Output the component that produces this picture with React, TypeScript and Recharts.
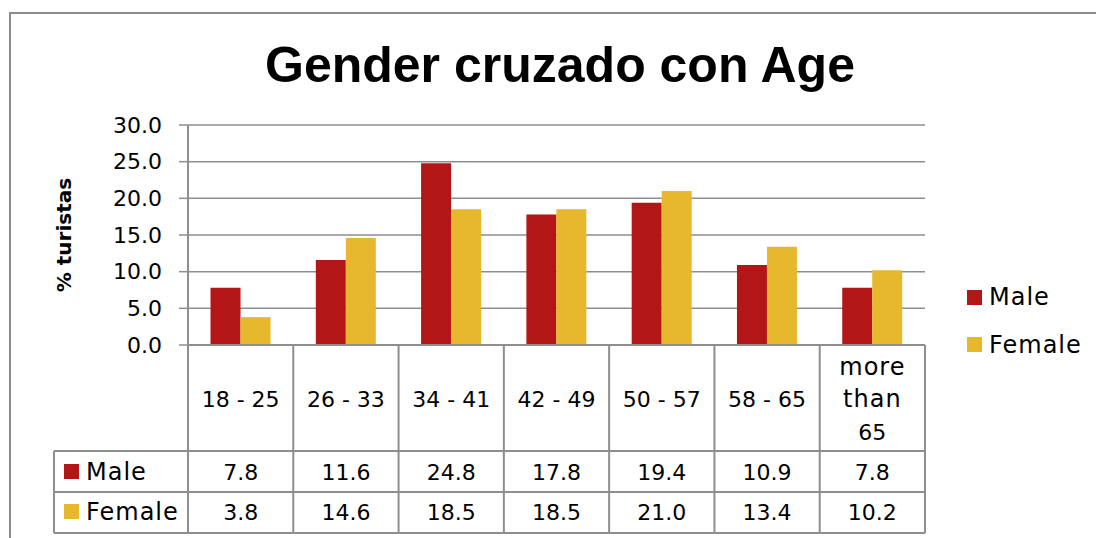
import React from 'react';
import { BarChart, Bar, XAxis, YAxis, CartesianGrid, Legend } from 'recharts';

const categories = ['18 - 25', '26 - 33', '34 - 41', '42 - 49', '50 - 57', '58 - 65', 'more than 65'];
const maleValues = [7.8, 11.6, 24.8, 17.8, 19.4, 10.9, 7.8];
const femaleValues = [3.8, 14.6, 18.5, 18.5, 21.0, 13.4, 10.2];
const yTicks = [0, 5, 10, 15, 20, 25, 30];
const seriesNames = ['Male', 'Female'];
const title = 'Gender cruzado con Age';
const yLabel = '% turistas';

const data = categories.map((c, i) => ({ category: c, Male: maleValues[i], Female: femaleValues[i] }));

const MALE = '#B21616';
const FEMALE = '#E7B72C';
const COLORS = [MALE, FEMALE];
const LINE = '#8e8e8e';
const FONT = '"DejaVu Sans", sans-serif';

const HEADER_H = 106;
const ROW_H = 41;
const LEGEND_COL_W = 134;

function TableTick(props: any) {
  const { x, y, payload, index } = props;
  const count = props.visibleTicksCount || categories.length;
  const half = payload && payload.offset ? payload.offset : props.width / count / 2;
  const left = x - half;
  const right = x + half;
  const top = y;
  const r1 = top + HEADER_H;
  const r2 = r1 + ROW_H;
  const r3 = r2 + ROW_H;
  const label = String(payload.value);
  const lines = label.length > 8 ? label.split(' ') : [label];
  const lh = 32.5;
  const last = index === count - 1;
  const rows = [maleValues, femaleValues];
  const txt = { fontFamily: FONT, fontSize: 22, fill: '#000' } as const;
  const word = { fontFamily: FONT, fontSize: 24, fill: '#000', letterSpacing: 1 } as const;
  return (
    <g>
      <line x1={left} y1={top} x2={left} y2={r3} stroke={LINE} strokeWidth={2} />
      {last && <line x1={right} y1={top} x2={right} y2={r3} stroke={LINE} strokeWidth={2} />}
      {[r1, r2, r3].map((yy, k) => (
        <line key={k} x1={left} y1={yy} x2={right} y2={yy} stroke={LINE} strokeWidth={2} />
      ))}
      {lines.map((ln, k) => (
        <text key={k} x={x} y={top + 62 + (k - (lines.length - 1) / 2) * lh} textAnchor="middle"
          {...(/[a-z]/.test(ln) ? word : txt)}>
          {ln}
        </text>
      ))}
      {rows.map((vals, k) => (
        <text key={'v' + k} x={x} y={r1 + 29 + k * (ROW_H - 1)} textAnchor="middle" {...txt}>
          {vals[index].toFixed(1)}
        </text>
      ))}
      {index === 0 && (
        <g>
          <line x1={left - LEGEND_COL_W} y1={r1} x2={left - LEGEND_COL_W} y2={r3} stroke={LINE} strokeWidth={2} />
          {[r1, r2, r3].map((yy, k) => (
            <line key={'l' + k} x1={left - LEGEND_COL_W} y1={yy} x2={left} y2={yy} stroke={LINE} strokeWidth={2} />
          ))}
          {seriesNames.map((n, k) => (
            <g key={'s' + k}>
              <rect x={left - LEGEND_COL_W + 10} y={r1 + 13 + k * (ROW_H - 1)} width={15} height={15} fill={COLORS[k]} />
              <text x={left - LEGEND_COL_W + 32} y={r1 + 29 + k * (ROW_H - 1)} {...word}>
                {n}
              </text>
            </g>
          ))}
        </g>
      )}
    </g>
  );
}

function LegendContent() {
  return (
    <svg width={140} height={80} style={{ overflow: 'visible' }}>
      {seriesNames.map((n, k) => (
        <g key={n}>
          <rect x={7} y={10 + k * 47} width={15} height={15} fill={COLORS[k]} />
          <text x={29} y={25 + k * 48} fontFamily={FONT} fontSize={24} fill="#000" letterSpacing={1}>
            {n}
          </text>
        </g>
      ))}
    </svg>
  );
}

export default function App() {
  return (
    <div style={{ position: 'absolute', left: 0, top: 0, width: 1096, height: 538, overflow: 'hidden', background: '#fff' }}>
      <div style={{ position: 'absolute', left: 9, top: 12, width: 1300, height: 800, border: '2px solid #8c8c8c' }} />
      <div style={{ position: 'absolute', left: 0, top: 0 }}>
        <BarChart width={1096} height={538} data={data} margin={{ top: 125, right: 171, bottom: 0, left: 0 }}
          barCategoryGap="21.4%" barGap={0}>
          <CartesianGrid vertical={false} stroke={LINE} strokeWidth={1.5} />
          <XAxis dataKey="category" height={193} tickSize={0} tickMargin={0} tickLine={false} interval={0}
            axisLine={{ stroke: LINE, strokeWidth: 2 }} tick={<TableTick />} />
          <YAxis type="number" domain={[0, 30]} ticks={yTicks} interval={0} width={188}
            tickFormatter={(v: number) => v.toFixed(1)} tick={{ fill: '#000', fontSize: 22, fontFamily: FONT }}
            tickLine={{ stroke: LINE, strokeWidth: 1.5 }} tickSize={9} tickMargin={17}
            axisLine={{ stroke: LINE, strokeWidth: 2 }} />
          <Legend layout="horizontal" verticalAlign="middle" align="center" content={<LegendContent />}
            wrapperStyle={{ left: 960, top: 280, width: 140, height: 80 }} />
          <Bar dataKey="Male" fill={MALE} isAnimationActive={false} />
          <Bar dataKey="Female" fill={FEMALE} isAnimationActive={false} />
        </BarChart>
      </div>
      <svg width={1096} height={538} style={{ position: 'absolute', left: 0, top: 0, pointerEvents: 'none' }}>
        <text x={560} y={82} textAnchor="middle" fontFamily='"Liberation Sans", Arial, sans-serif' fontWeight="bold" fontSize={50} fill="#000">
          {title}
        </text>
        <text x={71} y={235} textAnchor="middle" transform="rotate(-90 71 235)" fontFamily={FONT} fontWeight="bold" fontSize={20} fill="#000">
          {yLabel}
        </text>
      </svg>
    </div>
  );
}
